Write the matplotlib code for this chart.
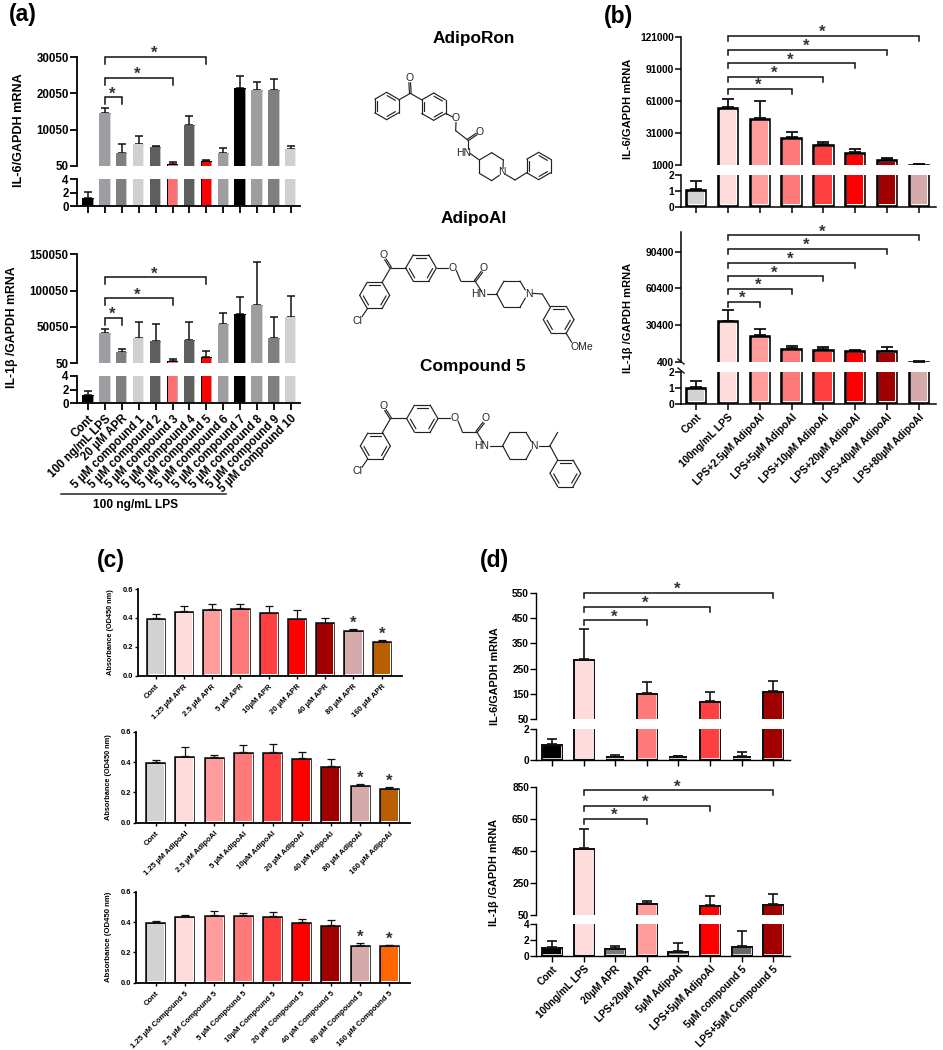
"""Broken-axis bar panels (a)-(d) with the three compound structures."""

import math

import matplotlib
matplotlib.use("Agg")
import matplotlib.patheffects as pe
import matplotlib.pyplot as plt
import numpy as np

W, H = 943, 1050

GREY = "#d3d3d3"
PINK = "#ffdcdc"
SALMON = "#ff9c9c"
CORAL = "#ff7b7b"
LIGHT_RED = "#ff4040"
RED = "#ff0000"
DARK_RED = "#a00000"
DUSTY = "#d4aaaa"
BROWN = "#b95f00"
ORANGE = "#ff6600"
G1 = "#9e9ea2"
G2 = "#7f7f7f"
G3 = "#d0d0d0"
G4 = "#5e5e5e"

# panel (a)
a_labels = ["Cont", "100 ng/mL LPS", "20 µM APR"] + [f"5 µM compound {i}" for i in range(1, 11)]
a_colors = ["black", G1, G2, G3, G4, "#ff6f6f", G4, RED, G1, "black", G1, G2, G3]
a_edges = ["black", G1, G2, G3, G4, "black", G4, "black", G1, "black", G1, G2, G3]
a1_vals = [1.2, 14500, 3620, 6090, 5360, 690, 11210, 1510, 3620, 21460, 21000, 21100, 4810]
a1_tops = [2.1, 16150, 6180, 8280, 5540, 1240, 13680, 1790, 4900, 24850, 23200, 23930, 5540]
a2_vals = [1.2, 42300, 15950, 35500, 30500, 3230, 32300, 8200, 53700, 68200, 80900, 35000, 64100]
a2_tops = [1.8, 47300, 19100, 57300, 54100, 5500, 56800, 16400, 69600, 91400, 139100, 64100, 92800]
a1_brackets = [(1, 2, 18990), (1, 5, 24390), (1, 7, 30050)]
a2_brackets = [(1, 2, 62770), (1, 5, 89590), (1, 7, 118220)]

# panel (b)
b_labels = ["Cont", "100ng/mL LPS", "LPS+2.5µM AdipoAI", "LPS+5µM AdipoAI", "LPS+10µM AdipoAI",
            "LPS+20µM AdipoAI", "LPS+40µM AdipoAI", "LPS+80µM AdipoAI"]
b_colors = [GREY, PINK, SALMON, CORAL, LIGHT_RED, RED, DARK_RED, DUSTY]
b1_vals = [1.1, 55700, 45060, 27560, 21000, 13500, 6940, 1940]
b1_tops = [1.65, 62900, 61000, 32250, 22900, 16300, 8190, 1940]
b2_vals = [1.05, 34275, 22620, 11780, 11240, 9885, 9885, 940]
b2_tops = [1.4, 43200, 27500, 13680, 12600, 10700, 12600, 1480]
b1_brackets = [(1, 3, 72560), (1, 4, 84125), (1, 5, 96600), (1, 6, 109100), (1, 7, 122250)]
b2_brackets = [(1, 2, 49720), (1, 3, 60300), (1, 4, 70300), (1, 5, 81400), (1, 6, 92500), (1, 7, 103650)]

# panel (c)
c_doses = ["1.25 µM", "2.5 µM", "5 µM", "10µM", "20 µM", "40 µM", "80 µM", "160 µM"]
c1_labels = ["Cont"] + [f"{d} APR" for d in c_doses]
c2_labels = ["Cont"] + [f"{d} AdipoAI" for d in c_doses]
c3_labels = ["Cont"] + [f"{d} Compound 5" for d in c_doses]
c_colors = [GREY, PINK, SALMON, CORAL, LIGHT_RED, RED, DARK_RED, DUSTY, BROWN]
c3_colors = [GREY, PINK, SALMON, CORAL, LIGHT_RED, RED, DARK_RED, DUSTY, ORANGE]
c1_vals = [0.399, 0.448, 0.462, 0.468, 0.436, 0.395, 0.367, 0.316, 0.242]
c1_tops = [0.427, 0.485, 0.494, 0.498, 0.482, 0.452, 0.402, 0.323, 0.247]
c2_vals = [0.400, 0.437, 0.433, 0.464, 0.466, 0.424, 0.374, 0.246, 0.226]
c2_tops = [0.413, 0.499, 0.448, 0.514, 0.516, 0.466, 0.422, 0.255, 0.233]
c3_vals = [0.400, 0.440, 0.444, 0.444, 0.437, 0.402, 0.382, 0.250, 0.246]
c3_tops = [0.409, 0.448, 0.473, 0.462, 0.464, 0.422, 0.411, 0.259, 0.248]
c_stars = [7, 8]

# panel (d)
d_labels = ["Cont", "100ng/mL LPS", "20µM APR", "LPS+20µM APR", "5µM AdipoAI",
            "LPS+5µM AdipoAI", "5µM compound 5", "LPS+5µM Compound 5"]
d1_colors = ["black", PINK, "#8a8a8a", CORAL, "#8a8a8a", LIGHT_RED, "#8a8a8a", DARK_RED]
d2_colors = ["black", PINK, "#7a7a7a", SALMON, "#666666", RED, "#666666", DARK_RED]
d1_vals = [1.02, 289.5, 0.17, 155, 0.25, 121, 0.25, 163]
d1_tops = [1.36, 405, 0.36, 199, 0.30, 158, 0.55, 203]
d2_vals = [1.06, 468.7, 1.02, 123, 0.6, 112.5, 1.28, 121]
d2_tops = [1.87, 591.6, 1.28, 140, 1.62, 169, 3.1, 183]
d1_brackets = [(1, 3, 441), (1, 5, 493.5), (1, 7, 549)]
d2_brackets = [(1, 3, 652), (1, 5, 735), (1, 7, 831)]

plt.rcParams["font.family"] = ["Liberation Sans", "DejaVu Sans"]
plt.rcParams["font.weight"] = "bold"


def px_axes(fig, left, right, top, bottom):
    ax = fig.add_axes([left / W, 1 - bottom / H, (right - left) / W, (bottom - top) / H])
    ax.patch.set_alpha(0)
    for side in ("top", "right"):
        ax.spines[side].set_visible(False)
    return ax


def draw_bars(ax, vals, tops, colors, edges, style):
    """Outer edge, thin white rim, then the fill, as the GraphPad bars look."""
    pos = ax.get_position()
    ylo, yhi = ax.get_ylim()
    per_px = (yhi - ylo) / (pos.height * H)
    rim, edge = style["rim"], style["edge"]
    inset = (rim + edge) * per_px
    vals = np.array(vals, dtype=float)
    tops = np.array(tops, dtype=float)
    # a bar that ends under this axis part is not drawn here at all
    keep = np.flatnonzero(vals > ylo)
    x = keep
    base = inset if ylo == 0 else ylo - 4 * inset
    heights = np.maximum(vals[keep] - inset - base, 0)
    width = style["width"] - 2 * (rim + edge) / style["step"]
    ax.errorbar(x, vals[keep], yerr=[np.zeros(len(keep)), tops[keep] - vals[keep]], fmt="none", ecolor="#111111",
                elinewidth=style["err"], capsize=style["cap"], capthick=style["err"], zorder=1)
    bars = ax.bar(x, heights, width, bottom=base, color=[colors[i] for i in keep], linewidth=0, zorder=2)
    for bar, i in zip(bars, keep):
        bar.set_path_effects([
            pe.Stroke(linewidth=2 * (rim + edge) * 0.72, foreground=edges[i]),
            pe.Stroke(linewidth=2 * rim * 0.72, foreground="white"),
            pe.Normal(),
        ])


def draw_brackets(ax, brackets, drop_px, star_size):
    pos = ax.get_position()
    ylo, yhi = ax.get_ylim()
    drop = drop_px * (yhi - ylo) / (pos.height * H)
    for i, j, y in brackets:
        ax.plot([i, i, j, j], [y - drop, y, y, y - drop], color="#111111", lw=1.1,
                clip_on=False, solid_joinstyle="miter", zorder=3)
        ax.annotate("*", ((i + j) / 2, y), xytext=(-1, -3), textcoords="offset points",
                    ha="center", va="bottom", fontsize=star_size, color="#333333", annotation_clip=False)


def broken_panel(fig, box, x0, step, upper, lower, vals, tops, colors, edges, labels, brackets, style):
    left, right, top, mid1, mid2, bottom = box
    xlim = ((left - x0) / step, (right - x0) / step)

    up = px_axes(fig, left, right, top, mid1)
    up.spines["bottom"].set_visible(False)
    up.set_xlim(xlim)
    up.set_ylim(upper["lim"])
    up.set_xticks([])
    up.set_yticks(upper["ticks"])

    lo = px_axes(fig, left, right, mid2, bottom)
    lo.set_xlim(xlim)
    lo.set_ylim(lower["lim"])
    lo.set_yticks(lower["ticks"])

    for ax in (up, lo):
        draw_bars(ax, vals, tops, colors, edges, style)
        ax.tick_params(axis="y", labelsize=style["tick"], width=style["axis"], length=style["ticklen"], pad=1)
        ax.spines["left"].set_linewidth(style["axis"])
    lo.spines["bottom"].set_linewidth(style["axis"])
    if labels:
        lo.set_xticks(np.arange(len(vals)), labels, rotation=45, ha="right", rotation_mode="anchor")
    else:
        lo.set_xticks(np.arange(len(vals)), [""] * len(vals))
    lo.tick_params(axis="x", labelsize=style["label"], width=style["axis"], length=style["ticklen"], pad=style["pad"])
    draw_brackets(up, brackets, style["drop"], style["star"])
    return up, lo


def ring(ov, cx, cy, r, flat=False):
    start = 0 if flat else 30
    pts = [(cx + r * math.cos(math.radians(start + 60 * k)), cy + r * math.sin(math.radians(start + 60 * k)))
           for k in range(6)]
    for k in range(6):
        p, q = pts[k], pts[(k + 1) % 6]
        bond(ov, p, q)
        if k % 2 == 0:
            a = (cx + 0.78 * (p[0] - cx) * 0.95 + 0.05 * 0.78 * (q[0] - cx), cy + 0.78 * (p[1] - cy) * 0.95 + 0.05 * 0.78 * (q[1] - cy))
            b = (cx + 0.78 * (q[0] - cx) * 0.95 + 0.05 * 0.78 * (p[0] - cx), cy + 0.78 * (q[1] - cy) * 0.95 + 0.05 * 0.78 * (p[1] - cy))
            bond(ov, a, b)


def bond(ov, p, q):
    # structure points are read in the 3x crop of the middle column
    ov.plot([300 + p[0] / 3, 300 + q[0] / 3], [p[1] / 3, q[1] / 3], color="#222222", lw=0.85, solid_capstyle="round")


def double(ov, p, q, off=5):
    dx, dy = q[0] - p[0], q[1] - p[1]
    n = math.hypot(dx, dy)
    ox, oy = -dy / n * off / 2, dx / n * off / 2
    bond(ov, (p[0] + ox, p[1] + oy), (q[0] + ox, q[1] + oy))
    bond(ov, (p[0] - ox, p[1] - oy), (q[0] - ox, q[1] - oy))


def atom(ov, x, y, text):
    ov.text(300 + x / 3, y / 3, text, ha="center", va="center", fontsize=7.5, fontweight="normal", color="#222222")


def chain(ov, pts):
    for p, q in zip(pts, pts[1:]):
        bond(ov, p, q)


def structures(ov):
    # AdipoRon
    ring(ov, 260, 318, 41)
    ring(ov, 401, 320, 41)
    ring(ov, 716, 498, 41)
    chain(ov, [(296, 300), (331, 280), (366, 300)])
    double(ov, (331, 280), (329, 248))
    atom(ov, 328, 234, "O")
    chain(ov, [(437, 340), (458, 351)])
    atom(ov, 468, 355, "O")
    chain(ov, [(468, 367), (467, 392), (503, 420)])
    double(ov, (503, 420), (530, 402))
    atom(ov, 540, 397, "O")
    chain(ov, [(503, 420), (503, 446)])
    atom(ov, 492, 458, "HN")
    chain(ov, [(510, 460), (538, 480), (575, 458), (610, 480), (609, 506)])
    chain(ov, [(538, 480), (538, 520), (575, 542), (598, 526)])
    atom(ov, 606, 517, "N")
    chain(ov, [(618, 524), (645, 540), (680, 518)])

    # AdipoAI and compound 5 share the chlorobenzophenone half
    for dx, dy, r2 in ((0, 0, 46), (2, 452, 47)):
        ring(ov, 226 + dx - 2, 886 + dy, 45, flat=True)
        ring(ov, 363 + dx * 2, 804 + dy, r2, flat=True)
        chain(ov, [(247, 846 + dy), (272, 803 + dy), (317 + dx, 803 + dy)])
        double(ov, (272, 803 + dy), (256, 778 + dy))
        atom(ov, 250, 765 + dy, "O")
        chain(ov, [(203, 925 + dy), (186, 950 + dy)])
        atom(ov, 171, 962 + dy, "Cl")
    chain(ov, [(410, 803), (445, 803)])
    atom(ov, 458, 803, "O")
    chain(ov, [(469, 811), (482, 843), (525, 843), (546, 876)])
    double(ov, (525, 843), (546, 815))
    atom(ov, 550, 803, "O")
    atom(ov, 537, 882, "HN")
    chain(ov, [(560, 882), (590, 882), (612, 843), (660, 843), (676, 870)])
    chain(ov, [(590, 882), (612, 922), (660, 922), (676, 894)])
    atom(ov, 686, 882, "N")
    chain(ov, [(698, 880), (727, 882), (750, 920)])
    ring(ov, 776, 959, 46, flat=True)
    chain(ov, [(798, 999), (815, 1027)])
    atom(ov, 845, 1042, "OMe")

    chain(ov, [(415, 1255), (450, 1255)])
    atom(ov, 463, 1255, "O")
    chain(ov, [(474, 1263), (487, 1295), (530, 1295), (550, 1328)])
    double(ov, (530, 1295), (551, 1268))
    atom(ov, 557, 1255, "O")
    atom(ov, 546, 1337, "HN")
    chain(ov, [(570, 1337), (608, 1337), (630, 1297), (678, 1297), (694, 1325)])
    chain(ov, [(608, 1337), (630, 1378), (678, 1378), (694, 1349)])
    atom(ov, 703, 1337, "N")
    chain(ov, [(716, 1337), (750, 1337), (773, 1297)])
    chain(ov, [(750, 1337), (773, 1380)])
    ring(ov, 796, 1420, 46, flat=True)


def main():
    fig = plt.figure(figsize=(W / 100, H / 100), dpi=100)

    a_style = dict(rim=0.3, edge=0.7, width=11.3 / 16.9, step=16.9, err=1.1, cap=2.8, tick=8.3, axis=1.3,
                   ticklen=5, label=8.3, pad=2, drop=7, star=12)
    broken_panel(fig, (77, 300, 57, 166, 179, 206), 88, 16.9,
                 dict(lim=(50, 30050), ticks=[50, 10050, 20050, 30050]),
                 dict(lim=(0, 4), ticks=[0, 2, 4]),
                 a1_vals, a1_tops, a_colors, a_edges, None, a1_brackets, a_style)
    broken_panel(fig, (77, 300, 254.3, 363.3, 376, 403.3), 88, 16.9,
                 dict(lim=(50, 150050), ticks=[50, 50050, 100050, 150050]),
                 dict(lim=(0, 4), ticks=[0, 2, 4]),
                 a2_vals, a2_tops, a_colors, a_edges, a_labels, a2_brackets, a_style)

    b_style = dict(rim=0.7, edge=2.1, width=22 / 31.86, step=31.86, err=1.3, cap=4, tick=7.4, axis=1.1,
                   ticklen=4, label=7.4, pad=2, drop=5, star=12)
    broken_panel(fig, (681, 936, 37.3, 165.3, 175, 207), 696, 31.86,
                 dict(lim=(1000, 121000), ticks=[1000, 31000, 61000, 91000, 121000]),
                 dict(lim=(0, 2), ticks=[0, 1, 2]),
                 b1_vals, b1_tops, b_colors, ["black"] * 8, None, b1_brackets, b_style)
    broken_panel(fig, (681, 936, 232, 362.3, 371.7, 403.7), 696, 31.86,
                 dict(lim=(400, 106300), ticks=[400, 30400, 60400, 90400]),
                 dict(lim=(0, 2), ticks=[0, 1, 2]),
                 b2_vals, b2_tops, b_colors, ["black"] * 8, b_labels, b2_brackets, b_style)

    c_style = dict(rim=0.5, edge=1.3, width=20 / 28.5, step=28.5, err=0.9, cap=2.6, tick=5.4, axis=1,
                   ticklen=2.5, label=5.6, pad=2)
    for (box, x0, step, vals, tops, colors, labels) in (
        ((137.7, 402, 589, 675.7), 155.7, 28.25, c1_vals, c1_tops, c_colors, c1_labels),
        ((135.7, 410, 731.7, 822.7), 155.7, 29.2, c2_vals, c2_tops, c_colors, c2_labels),
        ((135.7, 410, 891.7, 982.7), 155.7, 29.2, c3_vals, c3_tops, c3_colors, c3_labels),
    ):
        ax = px_axes(fig, box[0], box[1], box[2], box[3])
        ax.set_xlim((box[0] - x0) / step, (box[1] - x0) / step)
        ax.set_ylim(0, 0.6)
        ax.set_yticks([0, 0.2, 0.4, 0.6], ["0.0", "0.2", "0.4", "0.6"])
        draw_bars(ax, vals, tops, colors, ["#111111"] * 9, c_style)
        ax.set_xticks(np.arange(9), labels, rotation=45, ha="right", rotation_mode="anchor")
        ax.tick_params(axis="x", labelsize=c_style["label"], width=1, length=2.5, pad=3)
        ax.tick_params(axis="y", labelsize=c_style["tick"], width=1, length=2.5, pad=1)
        for side in ("left", "bottom"):
            ax.spines[side].set_linewidth(1.3)
        for i in c_stars:
            ax.annotate("*", (i, tops[i]), xytext=(0, -1), textcoords="offset points", ha="center", va="bottom",
                        fontsize=12, color="#333333", annotation_clip=False)

    d_style = dict(rim=0.4, edge=1.6, width=22 / 31.6, step=31.6, err=1.2, cap=3.8, tick=7.3, axis=1.0,
                   ticklen=4, label=7.3, pad=2, drop=5, star=12)
    broken_panel(fig, (536, 790, 592.7, 719.3, 729, 760.3), 552, 31.6,
                 dict(lim=(50, 550), ticks=[50, 150, 250, 350, 450, 550]),
                 dict(lim=(0, 2), ticks=[0, 2]),
                 d1_vals, d1_tops, d1_colors, ["#111111"] * 8, None, d1_brackets, d_style)
    broken_panel(fig, (536, 790, 787.3, 915, 924.3, 955.7), 552, 31.6,
                 dict(lim=(50, 850), ticks=[50, 250, 450, 650, 850]),
                 dict(lim=(0, 4), ticks=[0, 2, 4]),
                 d2_vals, d2_tops, d2_colors, ["#111111"] * 8, d_labels, d2_brackets, d_style)

    # everything free-standing sits on a full-figure overlay in pixel coordinates
    ov = fig.add_axes([0, 0, 1, 1], zorder=10)
    ov.set_xlim(0, W)
    ov.set_ylim(H, 0)
    ov.axis("off")

    for x, y, s in ((9, 15, "(a)"), (604, 16, "(b)"), (97, 561, "(c)"), (480, 561, "(d)")):
        ov.text(x, y, s, fontsize=16.5, va="center", ha="left")

    for x, y, s, size in (
        (19, 130, "IL-6/GAPDH mRNA", 9.1),
        (12, 327, "IL-1β /GAPDH mRNA", 8.8),
        (628, 109, "IL-6/GAPDH mRNA", 8),
        (628, 318, "IL-1β /GAPDH mRNA", 8),
        (110, 632, "Absorbance (OD450 nm)", 5.3),
        (108, 777, "Absorbance (OD450 nm)", 5.3),
        (108, 937, "Absorbance (OD450 nm)", 5.6),
        (495, 676, "IL-6/GAPDH mRNA", 7.8),
        (494, 872, "IL-1β /GAPDH mRNA", 7.8),
    ):
        ov.text(x, y, s, rotation=90, fontsize=size, ha="center", va="center")

    ov.plot([60.7, 226], [494, 494], color="#222222", lw=1.1)
    ov.text(136, 505, "100 ng/mL LPS", fontsize=8.6, ha="center", va="center")

    for x, y, s in ((474, 39, "AdipoRon"), (474, 218, "AdipoAI"), (473, 367, "Compound 5")):
        ov.text(x, y, s, fontsize=12.4, ha="center", va="center")

    # axis break marks on the lower (b) panel
    for y in (359, 368):
        ov.plot([678, 684], [y, y + 5], color="#111111", lw=1)

    structures(ov)
    fig.savefig("out.png", dpi=100)


if __name__ == "__main__":
    main()
